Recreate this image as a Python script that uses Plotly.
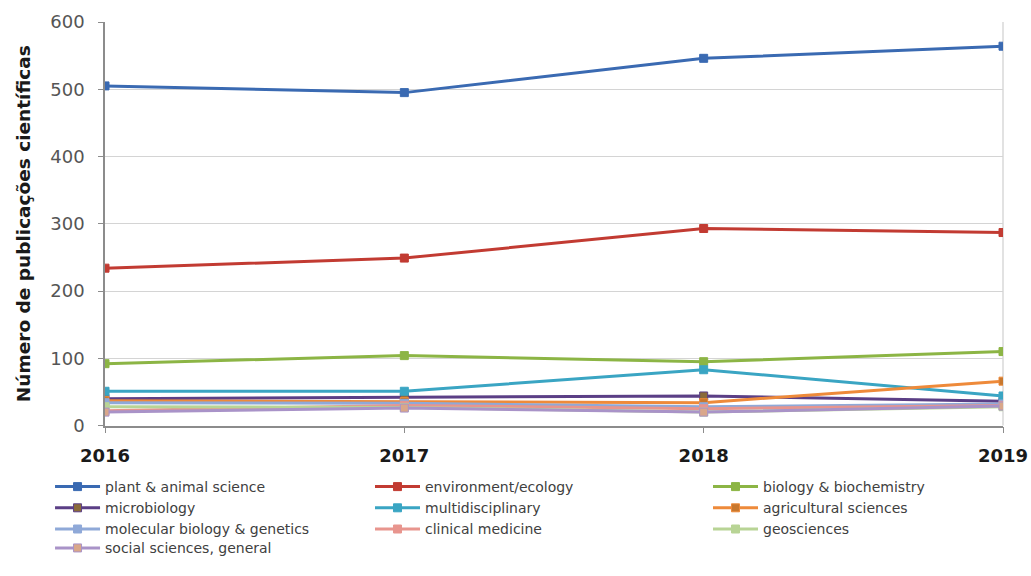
import plotly.graph_objects as go

years = [2016, 2017, 2018, 2019]

plant_animal = [505, 495, 546, 564]
environment_ecology = [234, 249, 293, 287]
biology_biochemistry = [92, 104, 95, 110]
microbiology = [40, 42, 44, 36]
multidisciplinary = [51, 51, 83, 44]
agricultural = [37, 36, 34, 66]
molecular_genetics = [34, 33, 28, 32]
clinical_medicine = [22, 30, 25, 30]
geosciences = [28, 27, 20, 28]
social_sciences = [20, 26, 20, 29]

# (name, values, line colour, marker colour, legend block)
series = [
    ("plant & animal science", plant_animal, "#3A6AB2", "#3A6AB2", "legend"),
    ("environment/ecology", environment_ecology, "#C23B32", "#C23B32", "legend2"),
    ("biology & biochemistry", biology_biochemistry, "#8CB545", "#8CB545", "legend3"),
    ("microbiology", microbiology, "#5B3F86", "#8A6A3A", "legend"),
    ("multidisciplinary", multidisciplinary, "#3AA5C3", "#3AA5C3", "legend2"),
    ("agricultural sciences", agricultural, "#EE8A3A", "#C8782E", "legend3"),
    ("molecular biology & genetics", molecular_genetics, "#8FA9D8", "#8FA9D8", "legend"),
    ("clinical medicine", clinical_medicine, "#E8958E", "#E8958E", "legend2"),
    ("geosciences", geosciences, "#B8D495", "#B8D495", "legend3"),
    ("social sciences, general", social_sciences, "#A993C8", "#D9A78A", "legend4"),
]

fig = go.Figure()
for name, vals, color, mcolor, leg in series:
    fig.add_trace(go.Scatter(
        x=years, y=vals, name=name, mode="lines+markers", legend=leg,
        line=dict(color=color, width=3),
        marker=dict(symbol="square", size=8, color=mcolor,
                    line=dict(color=color, width=1)),
    ))

legend_font = dict(size=14, color="#404040", family="DejaVu Sans, sans-serif")
legend_common = dict(orientation="v", yanchor="top", xanchor="left",
                     font=legend_font, itemwidth=45, tracegroupgap=0,
                     bgcolor="rgba(0,0,0,0)")

fig.update_layout(
    width=1031, height=576,
    margin=dict(l=105, r=28, t=22, b=100),
    paper_bgcolor="white", plot_bgcolor="white",
    font=dict(family="DejaVu Sans, sans-serif", color="#404040"),
    showlegend=True,
    legend=dict(x=-0.0612, y=0.0, **legend_common),
    legend2=dict(x=0.2951, y=0.0, **legend_common),
    legend3=dict(x=0.6715, y=0.0, **legend_common),
    legend4=dict(x=-0.0612, y=-0.1366, **legend_common),
    shapes=[dict(type="line", xref="x domain", yref="y domain", x0=1, x1=1, y0=0, y1=1,
                 line=dict(color="#D8D8D8", width=1.5), layer="below")],
)

fig.update_xaxes(
    range=[2016, 2019], tickvals=years, ticktext=[str(y) for y in years],
    tickfont=dict(size=18, color="#1a1a1a", family="DejaVu Sans, sans-serif", weight="bold"),
    ticklabelstandoff=7, automargin=False,
    showline=True, linecolor="#8C8C8C", linewidth=1.5,
    ticks="outside", ticklen=6, tickcolor="#8C8C8C",
    showgrid=False, zeroline=False,
)
fig.update_yaxes(
    range=[0, 600], dtick=100, domain=[0.1012, 1],
    tickfont=dict(size=18, color="#555555", family="DejaVu Sans, sans-serif"),
    ticklabelstandoff=10, automargin=False,
    showline=True, linecolor="#8C8C8C", linewidth=1.5,
    ticks="outside", ticklen=5, tickcolor="#8C8C8C",
    showgrid=True, gridcolor="#D4D4D4", gridwidth=1, zeroline=False,
    title=dict(text="<b>Número de publicações científicas</b>",
               font=dict(size=18.5, color="#1a1a1a", family="DejaVu Sans, sans-serif"),
               standoff=15),
)

fig.write_html("out.html")
